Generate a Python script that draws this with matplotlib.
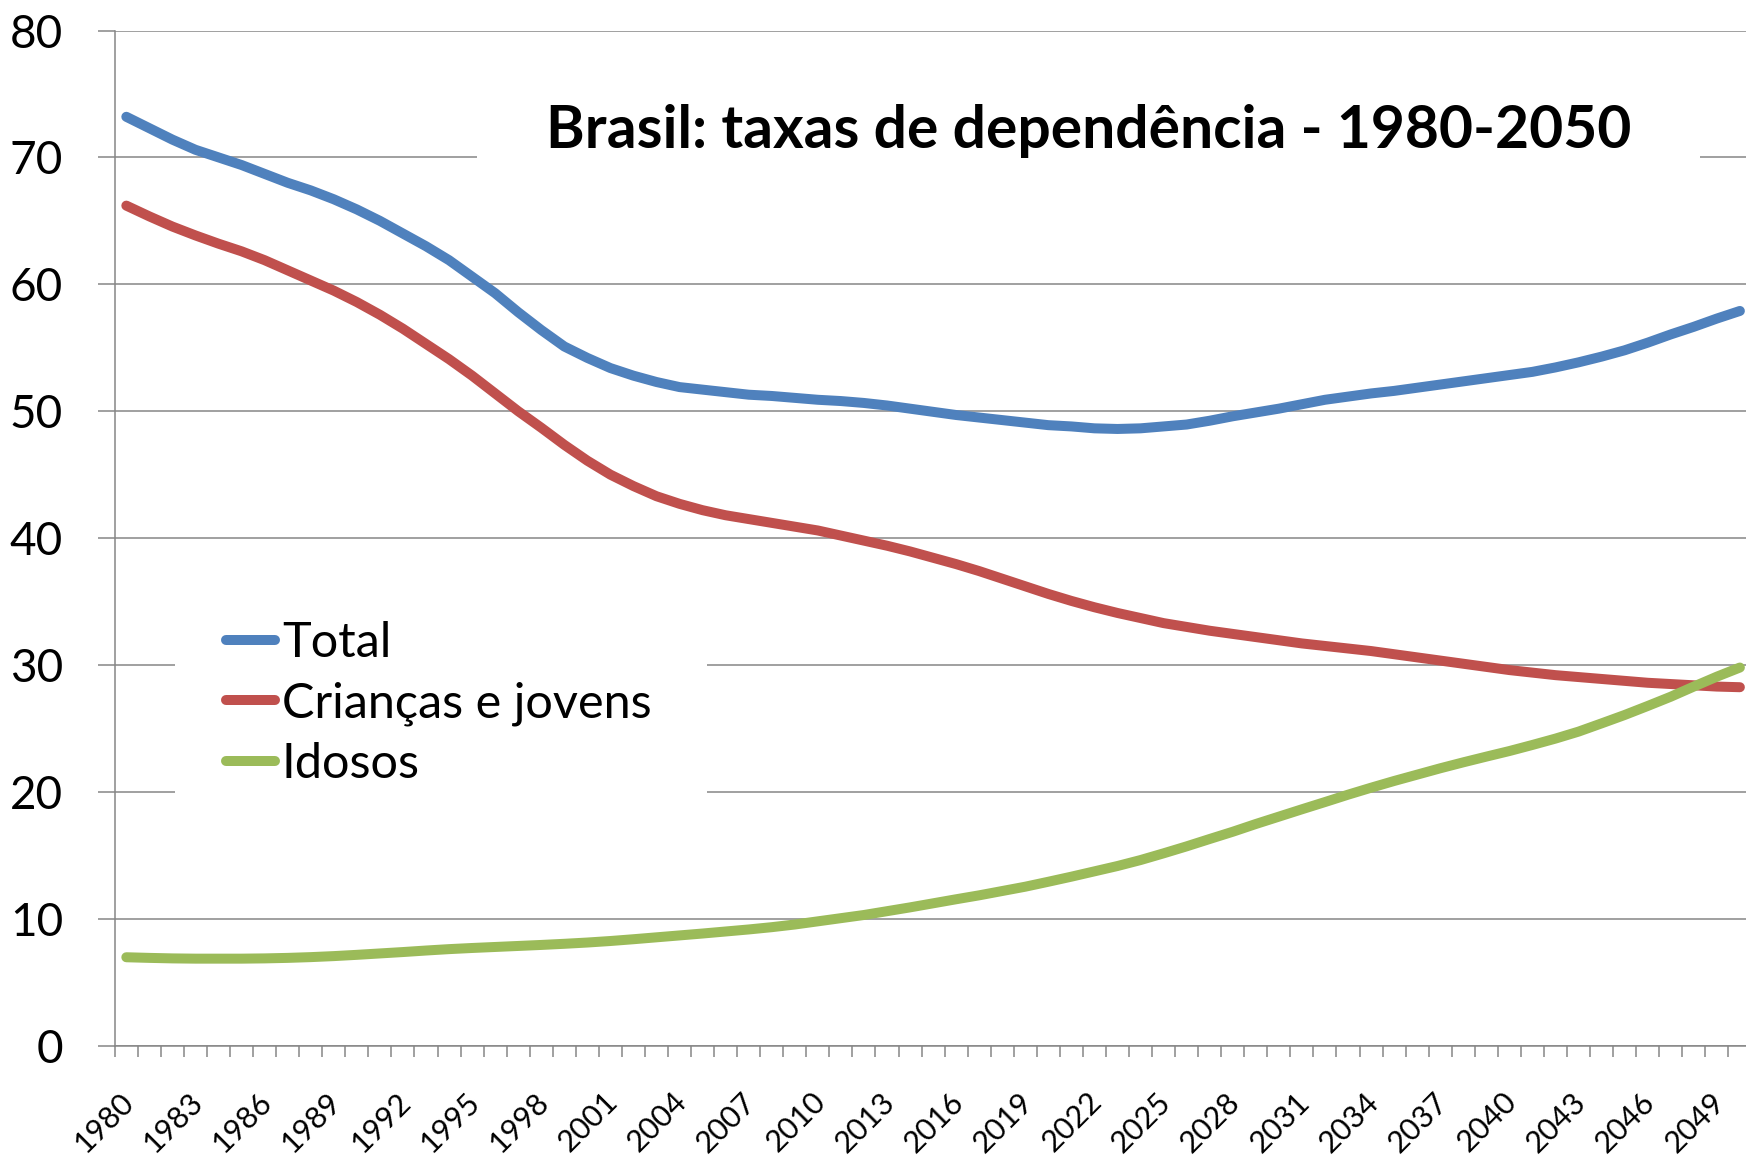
import matplotlib
matplotlib.use("Agg")
import matplotlib.pyplot as plt
import numpy as np
from matplotlib.patches import Rectangle
from matplotlib.transforms import ScaledTranslation

plt.rcParams['font.family'] = ['Lato', 'DejaVu Sans']

years = list(range(1980, 2051))

total = [73.2, 72.3, 71.4, 70.6, 70.0, 69.4, 68.7, 68.0, 67.4, 66.7,
         65.9, 65.0, 64.0, 63.0, 61.9, 60.6, 59.3, 57.8, 56.4, 55.1,
         54.2, 53.4, 52.8, 52.3, 51.9, 51.7, 51.5, 51.3, 51.2, 51.05,
         50.9, 50.8, 50.65, 50.45, 50.2, 49.95, 49.7, 49.5, 49.3, 49.1,
         48.9, 48.8, 48.65, 48.6, 48.65, 48.8, 48.95, 49.25, 49.6, 49.9,
         50.2, 50.55, 50.9, 51.15, 51.4, 51.6, 51.85, 52.1, 52.35, 52.6,
         52.85, 53.1, 53.45, 53.85, 54.3, 54.8, 55.4, 56.05, 56.65, 57.3,
         57.9]

criancas = [66.2, 65.35, 64.55, 63.85, 63.2, 62.6, 61.9, 61.1, 60.3, 59.5,
            58.6, 57.6, 56.5, 55.3, 54.1, 52.8, 51.4, 50.0, 48.7, 47.35,
            46.1, 45.0, 44.1, 43.3, 42.7, 42.2, 41.8, 41.5, 41.2, 40.9,
            40.6, 40.2, 39.8, 39.4, 38.95, 38.45, 37.95, 37.4, 36.8, 36.2,
            35.6, 35.05, 34.55, 34.1, 33.7, 33.3, 33.0, 32.7, 32.45, 32.2,
            31.95, 31.7, 31.5, 31.3, 31.1, 30.85, 30.6, 30.35, 30.1, 29.85,
            29.6, 29.4, 29.2, 29.05, 28.9, 28.75, 28.6, 28.5, 28.4, 28.3,
            28.25]

idosos = [6.97, 6.92, 6.88, 6.86, 6.86, 6.86, 6.88, 6.92, 6.98, 7.06,
          7.16, 7.27, 7.38, 7.5, 7.61, 7.7, 7.78, 7.86, 7.94, 8.03,
          8.13, 8.25, 8.39, 8.54, 8.69, 8.84, 9.0, 9.16, 9.34, 9.55,
          9.8, 10.05, 10.3, 10.6, 10.9, 11.22, 11.54, 11.85, 12.19, 12.53,
          12.92, 13.32, 13.74, 14.16, 14.63, 15.16, 15.71, 16.29, 16.86, 17.47,
          18.05, 18.63, 19.2, 19.78, 20.33, 20.86, 21.36, 21.86, 22.33, 22.78,
          23.22, 23.7, 24.2, 24.75, 25.4, 26.06, 26.77, 27.5, 28.3, 29.08,
          29.8]

series_names = ['Total', 'Crianças e jovens', 'Idosos']
series_colors = ['#4F81BD', '#C0504D', '#9BBB59']
tick_years = years[::3]
y_ticks = list(range(0, 81, 10))
title = 'Brasil: taxas de dependência - 1980-2050'

W, H = 1746, 1159
fig = plt.figure(figsize=(W / 100, H / 100), dpi=100)
ax = fig.add_axes([114.8 / W, 113.3 / H, 1636.6 / W, 1015.2 / H])

grey = '#868686'
for vals, name, col in zip([total, criancas, idosos], series_names, series_colors):
    ax.plot(years, vals, color=col, lw=7.2, solid_capstyle='round',
            solid_joinstyle='round', label=name, zorder=3)

ax.set_xlim(years[0] - 0.5, years[-1] + 0.5)
ax.set_ylim(0, 80)
ax.set_yticks(y_ticks)
ax.yaxis.grid(True, color=grey, lw=1.1)
ax.set_axisbelow(True)
for s in ['top', 'right']:
    ax.spines[s].set_visible(False)
for s in ['left', 'bottom']:
    ax.spines[s].set_color(grey)
    ax.spines[s].set_linewidth(1.1)

ax.tick_params(axis='y', length=12.2, width=1.1, color=grey, pad=25,
               labelsize=33, direction='out')
ax.set_xticks(tick_years)
ax.set_xticklabels([str(y) for y in tick_years], rotation=45, ha='right',
                   va='top', rotation_mode='anchor')
ax.set_xticks(np.arange(years[0] - 0.5, years[-1] + 1.0, 1.0), minor=True)
ax.tick_params(axis='x', which='major', length=0, pad=30, labelsize=22)
ax.tick_params(axis='x', which='minor', length=8, width=1.1, color=grey,
               direction='out')
shift = ScaledTranslation(-7 / 100, 0, fig.dpi_scale_trans)
for lab in ax.get_xticklabels():
    lab.set_transform(lab.get_transform() + shift)

# white backgrounds behind title and legend (hide gridlines like the original)
ax.add_patch(Rectangle((477 / W, 1 - 250 / H), 1223 / W, 190 / H,
                       transform=fig.transFigure, facecolor='white',
                       edgecolor='none', zorder=1, clip_on=False))
ax.add_patch(Rectangle((175 / W, 1 - 800 / H), 532 / W, 240 / H,
                       transform=fig.transFigure, facecolor='white',
                       edgecolor='none', zorder=1, clip_on=False))

leg = ax.legend(loc='upper left', bbox_to_anchor=(226 / W, 1 - 621 / H),
                bbox_transform=fig.transFigure, frameon=False, fontsize=35,
                handlelength=1.0, handletextpad=0.15, labelspacing=0.33,
                borderpad=0, borderaxespad=0)

fig.text(1089 / W, 1 - 148 / H, title, ha='center', va='baseline',
         fontsize=42.3, fontweight='bold')

fig.savefig('out.png', dpi=100, facecolor='white')
